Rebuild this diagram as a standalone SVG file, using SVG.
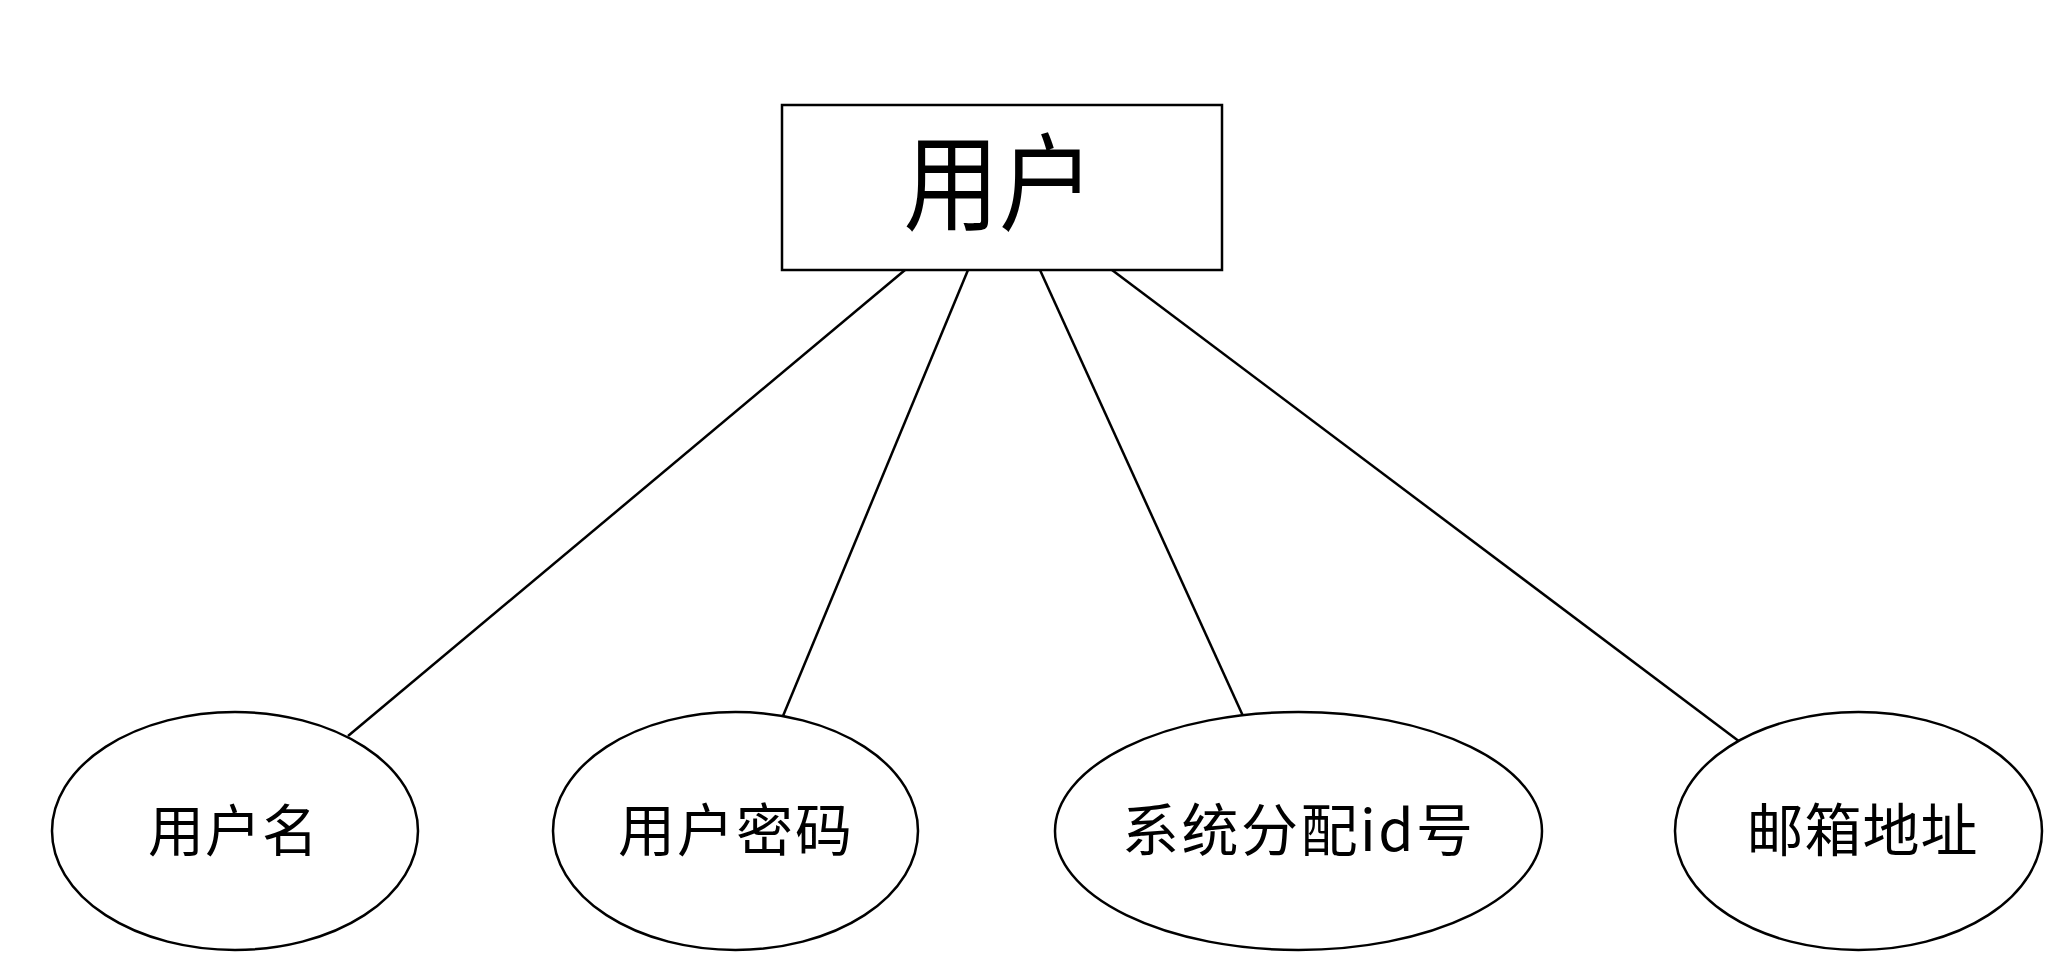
<svg xmlns="http://www.w3.org/2000/svg" width="2048" height="956" viewBox="0 0 2048 956">
<style>
.shape{fill:#fff;stroke:#000;stroke-width:2.5}
.conn line{stroke:#000;stroke-width:2.5}
text{font-family:"Noto Sans CJK SC","Noto Sans CJK JP",sans-serif;fill:#000;text-anchor:middle;font-weight:400}
</style>
<rect width="2048" height="956" fill="#fff"/>
<g id="connectors" class="conn">
<line x1="905" y1="270" x2="348" y2="736"/>
<line x1="968" y1="270" x2="783" y2="716"/>
<line x1="1040" y1="270" x2="1243" y2="716"/>
<line x1="1112" y1="270" x2="1740" y2="742"/>
</g>
<g id="user">
<rect class="shape" x="782" y="105" width="440" height="165"/>
<text transform="translate(999,222) scale(0.9,1)" x="0" y="0" font-size="106">用户</text>
</g>
<g id="username">
<ellipse class="shape" cx="235" cy="831" rx="183" ry="119"/>
<text x="233" y="851" font-size="56" textLength="170" lengthAdjust="spacing">用户名</text>
</g>
<g id="password">
<ellipse class="shape" cx="735.5" cy="831" rx="182.5" ry="119"/>
<text x="735" y="851" font-size="57" textLength="234" lengthAdjust="spacing">用户密码</text>
</g>
<g id="sysid">
<ellipse class="shape" cx="1298.5" cy="831" rx="243.5" ry="119"/>
<text x="1297.5" y="851" font-size="57" textLength="351" lengthAdjust="spacing">系统分配id号</text>
</g>
<g id="email">
<ellipse class="shape" cx="1858.5" cy="831" rx="183.5" ry="119"/>
<text x="1862" y="851" font-size="57" textLength="231" lengthAdjust="spacing">邮箱地址</text>
</g>
</svg>
